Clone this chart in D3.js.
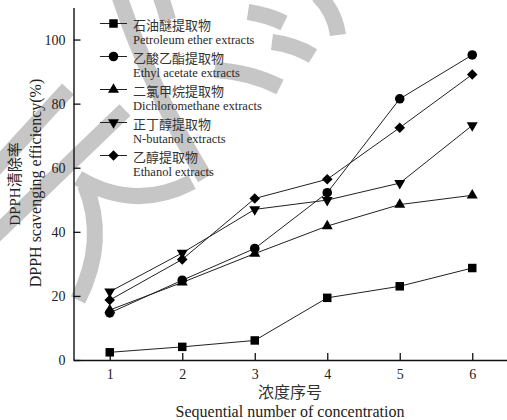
<!DOCTYPE html>
<html>
<head>
<meta charset="utf-8">
<script src="https://cdn.jsdelivr.net/npm/d3@7"></script>
<style>
  html, body { margin: 0; padding: 0; background: #fff; }
  svg { display: block; }
  .serif { font-family: "Liberation Serif", "DejaVu Serif", serif; }
  .cjk { font-family: "Noto Sans CJK SC", sans-serif; }
</style>
</head>
<body>
<svg id="chart" width="507" height="420"></svg>
<script>
// Concentration sequence numbers
const categories = [1, 2, 3, 4, 5, 6];

// DPPH scavenging efficiency (%) for each extract
const petroleumEther  = [2.4, 4.1, 6.1, 19.4, 23.0, 28.7];
const ethylAcetate    = [14.7, 24.9, 34.8, 52.2, 81.5, 95.2];
const dichloromethane = [15.6, 24.2, 33.2, 41.8, 48.5, 51.4];
const nButanol        = [21.3, 33.4, 47.0, 49.9, 55.2, 73.2];
const ethanol         = [18.7, 31.4, 50.4, 56.4, 72.5, 89.1];

// Legend labels
const namesZh = ["石油醚提取物", "乙酸乙酯提取物", "二氯甲烷提取物", "正丁醇提取物", "乙醇提取物"];
const namesEn = ["Petroleum ether extracts", "Ethyl acetate extracts", "Dichloromethane extracts",
                 "N-butanol extracts", "Ethanol extracts"];

// Axis ticks
const yTicks = [0, 20, 40, 60, 80, 100];

const seriesValues = [petroleumEther, ethylAcetate, dichloromethane, nButanol, ethanol];
const markerKinds = ["square", "circle", "triangle", "triangleDown", "diamond"];

const svg = d3.select("#chart");
svg.append("rect").attr("width", 507).attr("height", 420).attr("fill", "#fff");

// Background watermark strokes
const wm = svg.append("g")
  .attr("fill", "none")
  .attr("stroke", "#c6c6c6")
  .attr("stroke-width", 16);
[
  "M68,89 L-12,176",
  "M125,110 L-10,240",
  "M118,-8 C140,60 170,120 205,178",
  "M78,178 Q135,212 192,182",
  "M85,185 Q108,240 78,300",
  "M160,-5 Q165,8 168,20",
  "M248,12 Q268,15 284,23",
  "M272,42 Q295,45 313,56",
  "M215,70 Q250,72 280,87",
  "M318,-5 Q335,12 338,35"
].forEach(d => wm.append("path").attr("d", d));

// Scales
const x = d3.scaleLinear().domain([0.5, 6.5]).range([73.5, 508.5]);
const y = d3.scaleLinear().domain([0, 110]).range([360, 7.5]);

// Axes
const xAxis = svg.append("g")
  .attr("transform", `translate(0,${y(0)})`)
  .call(d3.axisBottom(x).tickValues(categories).tickFormat(d3.format("d"))
    .tickSizeInner(-7).tickSizeOuter(0).tickPadding(9));
const yAxis = svg.append("g")
  .attr("transform", `translate(${x(0.5)},0)`)
  .call(d3.axisLeft(y).tickValues(yTicks).tickFormat(d3.format("d"))
    .tickSizeInner(-7).tickSizeOuter(0).tickPadding(8));
[xAxis, yAxis].forEach(g => {
  g.select(".domain").attr("stroke", "#111").attr("stroke-width", 1.4);
  g.selectAll(".tick line").attr("stroke", "#111").attr("stroke-width", 1.3);
  g.selectAll(".tick text")
    .attr("class", "serif")
    .attr("font-size", 14)
    .attr("fill", "#222");
});

// Marker shapes
function drawMarker(sel, kind) {
  if (kind === "square") {
    sel.append("path").attr("d", d3.symbol(d3.symbolSquare, 72)());
  } else if (kind === "circle") {
    sel.append("path").attr("d", d3.symbol(d3.symbolCircle, 72)());
  } else if (kind === "triangle") {
    sel.append("path").attr("d", d3.symbol(d3.symbolTriangle, 52)());
  } else if (kind === "triangleDown") {
    sel.append("path").attr("d", d3.symbol(d3.symbolTriangle, 52)()).attr("transform", "rotate(180)");
  } else if (kind === "diamond") {
    sel.append("path").attr("d", d3.symbol(d3.symbolSquare, 56)()).attr("transform", "rotate(45)");
  }
}

// Lines and markers
const line = d3.line().x((d, i) => x(categories[i])).y(d => y(d));
seriesValues.forEach((vals, s) => {
  svg.append("path")
    .attr("d", line(vals))
    .attr("fill", "none")
    .attr("stroke", "#222")
    .attr("stroke-width", 1);
});
seriesValues.forEach((vals, s) => {
  vals.forEach((v, i) => {
    const g = svg.append("g")
      .attr("transform", `translate(${x(categories[i])},${y(v)})`)
      .attr("fill", "#000");
    drawMarker(g, markerKinds[s]);
  });
});

// Legend
const legend = svg.append("g").attr("transform", "translate(100,23.5)");
namesZh.forEach((name, s) => {
  const row = legend.append("g").attr("transform", `translate(0,${s * 33})`);
  row.append("line").attr("x1", 0).attr("x2", 27).attr("y1", 0).attr("y2", 0)
    .attr("stroke", "#222").attr("stroke-width", 1);
  const m = row.append("g").attr("transform", "translate(13.5,0)").attr("fill", "#000");
  drawMarker(m, markerKinds[s]);
  row.append("text").attr("class", "cjk")
    .attr("x", 33).attr("y", 6.5)
    .attr("font-size", 13).attr("fill", "#333")
    .text(name);
  row.append("text").attr("class", "serif")
    .attr("x", 33).attr("y", 20.5)
    .attr("font-size", 12.5).attr("fill", "#2a2a2a")
    .text(namesEn[s]);
});

// Axis titles
svg.append("text").attr("class", "cjk")
  .attr("x", 290).attr("y", 398).attr("text-anchor", "middle")
  .attr("font-size", 16).attr("fill", "#333")
  .text("浓度序号");
svg.append("text").attr("class", "serif")
  .attr("x", 290).attr("y", 417).attr("text-anchor", "middle")
  .attr("font-size", 16).attr("fill", "#222")
  .text("Sequential number of concentration");

const yt1 = svg.append("text")
  .attr("transform", "translate(20,184) rotate(-90)")
  .attr("text-anchor", "middle").attr("font-size", 15).attr("fill", "#222");
yt1.append("tspan").attr("class", "serif").text("DPPH");
yt1.append("tspan").attr("class", "cjk").text("清除率");

svg.append("text").attr("class", "serif")
  .attr("transform", "translate(41,183) rotate(-90)")
  .attr("text-anchor", "middle").attr("font-size", 16).attr("fill", "#222")
  .text("DPPH scavenging efficiency(%)");
</script>
</body>
</html>
